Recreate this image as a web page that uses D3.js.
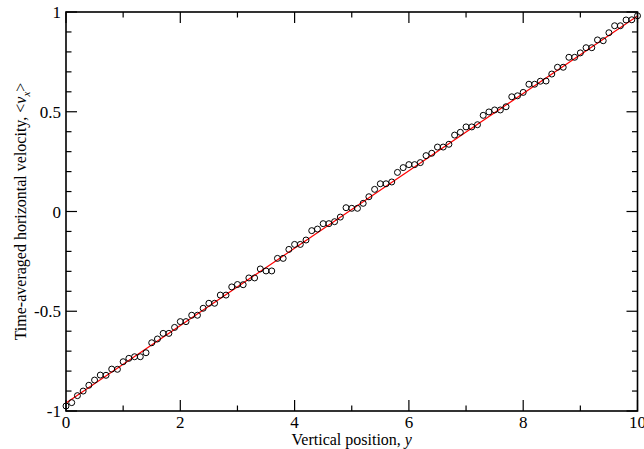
<!DOCTYPE html>
<html>
<head>
<meta charset="utf-8">
<script src="https://cdn.jsdelivr.net/npm/d3@7"></script>
<style>
  body { margin: 0; background: #fff; }
  text { font-family: "Liberation Serif", "Times New Roman", serif; fill: #000; }
</style>
</head>
<body>
<div id="chart"></div>
<script>
// positions along y (0 .. 10, step 0.1)
let xs = d3.range(0, 101).map(function(i){ return +(i / 10).toFixed(1) })

// time-averaged horizontal velocity
let vx = [
    -0.975, -0.958, -0.923, -0.900, -0.871, -0.845, -0.820, -0.821, -0.790, -0.791,
    -0.753, -0.736, -0.728, -0.728, -0.708, -0.658, -0.639, -0.611, -0.611, -0.581,
    -0.552, -0.552, -0.520, -0.520, -0.485, -0.460, -0.460, -0.419, -0.419, -0.378,
    -0.366, -0.367, -0.333, -0.333, -0.288, -0.298, -0.298, -0.235, -0.235, -0.190,
    -0.165, -0.165, -0.143, -0.096, -0.088, -0.061, -0.061, -0.051, -0.028, 0.019,
    0.016, 0.016, 0.041, 0.074, 0.111, 0.139, 0.139, 0.148, 0.196, 0.220,
    0.235, 0.235, 0.245, 0.280, 0.292, 0.323, 0.323, 0.337, 0.383, 0.397,
    0.424, 0.424, 0.435, 0.482, 0.499, 0.509, 0.509, 0.525, 0.575, 0.580,
    0.597, 0.638, 0.638, 0.653, 0.654, 0.689, 0.723, 0.723, 0.773, 0.773,
    0.795, 0.821, 0.821, 0.860, 0.856, 0.896, 0.931, 0.931, 0.960, 0.961,
    0.981
]

// linear fit (red line)
let fitX = [0, 10]
let fitY = [-0.96, 0.98]

let xMajor = [0, 2, 4, 6, 8, 10]
let yMajor = [-1, -0.5, 0, 0.5, 1]
let yLabels = ['-1', '-0.5', '0', '0.5', '1']

let width = 644,
    height = 449,
    pLeft = 66, pRight = 637.5, pTop = 12, pBottom = 411;

let svg = d3.select('#chart').append('svg')
    .attr('width', width)
    .attr('height', height)

let x = d3.scaleLinear().domain([0, 10]).range([pLeft, pRight])
let y = d3.scaleLinear().domain([-1, 1]).range([pBottom, pTop])

let xMinor = d3.range(1, 10, 2)
let yMinor = d3.range(-10, 11).map(function(i){ return i / 10 }).filter(function(v){
    return Math.abs(v * 2 - Math.round(v * 2)) > 1e-6
})

let ticks = svg.append('g').attr('stroke', '#000').attr('stroke-width', 1.2)

// bottom + top ticks
function xTicks(vals, len){
    ticks.selectAll(null).data(vals).enter().append('line')
        .attr('x1', d => x(d)).attr('x2', d => x(d))
        .attr('y1', pBottom).attr('y2', pBottom - len)
    ticks.selectAll(null).data(vals).enter().append('line')
        .attr('x1', d => x(d)).attr('x2', d => x(d))
        .attr('y1', pTop).attr('y2', pTop + len)
}
// left + right ticks
function yTicks(vals, len){
    ticks.selectAll(null).data(vals).enter().append('line')
        .attr('y1', d => y(d)).attr('y2', d => y(d))
        .attr('x1', pLeft).attr('x2', pLeft + len)
    ticks.selectAll(null).data(vals).enter().append('line')
        .attr('y1', d => y(d)).attr('y2', d => y(d))
        .attr('x1', pRight).attr('x2', pRight - len)
}
xTicks(xMajor, 11)
xTicks(xMinor, 5.5)
yTicks(yMajor, 11)
yTicks(yMinor, 5.5)

svg.selectAll('xlab')
    .data(xMajor)
    .enter()
    .append('text')
    .attr('x', d => x(d))
    .attr('y', pBottom + 16.5)
    .attr('text-anchor', 'middle')
    .attr('font-size', 17)
    .text(d => d)

svg.selectAll('ylab')
    .data(yMajor)
    .enter()
    .append('text')
    .attr('x', pLeft - 5)
    .attr('y', d => y(d) + 6)
    .attr('text-anchor', 'end')
    .attr('font-size', 17)
    .text((d, i) => yLabels[i])

// fit line
svg.append('path')
    .datum(fitX.map((d, i) => [d, fitY[i]]))
    .attr('d', d3.line().x(d => x(d[0])).y(d => y(d[1])))
    .attr('stroke', '#ff0000')
    .attr('stroke-width', 1.2)
    .attr('fill', 'none')

// circles
svg.selectAll('pt')
    .data(xs.map((d, i) => [d, vx[i]]))
    .enter()
    .append('circle')
    .attr('cx', d => x(d[0]))
    .attr('cy', d => y(d[1]))
    .attr('r', 3)
    .attr('fill', 'none')
    .attr('stroke', '#000')
    .attr('stroke-width', 1)

// frame
svg.append('rect')
    .attr('x', pLeft).attr('y', pTop)
    .attr('width', pRight - pLeft).attr('height', pBottom - pTop)
    .attr('fill', 'none')
    .attr('stroke', '#000')
    .attr('stroke-width', 1.6)

// axis titles
let xt = svg.append('text')
    .attr('x', (pLeft + pRight) / 2)
    .attr('y', 445)
    .attr('text-anchor', 'middle')
    .attr('font-size', 16)
xt.append('tspan').text('Vertical position, ')
xt.append('tspan').attr('font-style', 'italic').text('y')

let yt = svg.append('text')
    .attr('transform', 'translate(26,' + ((pTop + pBottom) / 2) + ') rotate(-90)')
    .attr('text-anchor', 'middle')
    .attr('font-size', 16)
yt.append('tspan').text('Time-averaged horizontal velocity, <')
yt.append('tspan').attr('font-style', 'italic').text('v')
yt.append('tspan').attr('font-style', 'italic').attr('font-size', 11).attr('dy', 4).text('x')
yt.append('tspan').attr('dy', -4).text('>')
</script>
</body>
</html>
